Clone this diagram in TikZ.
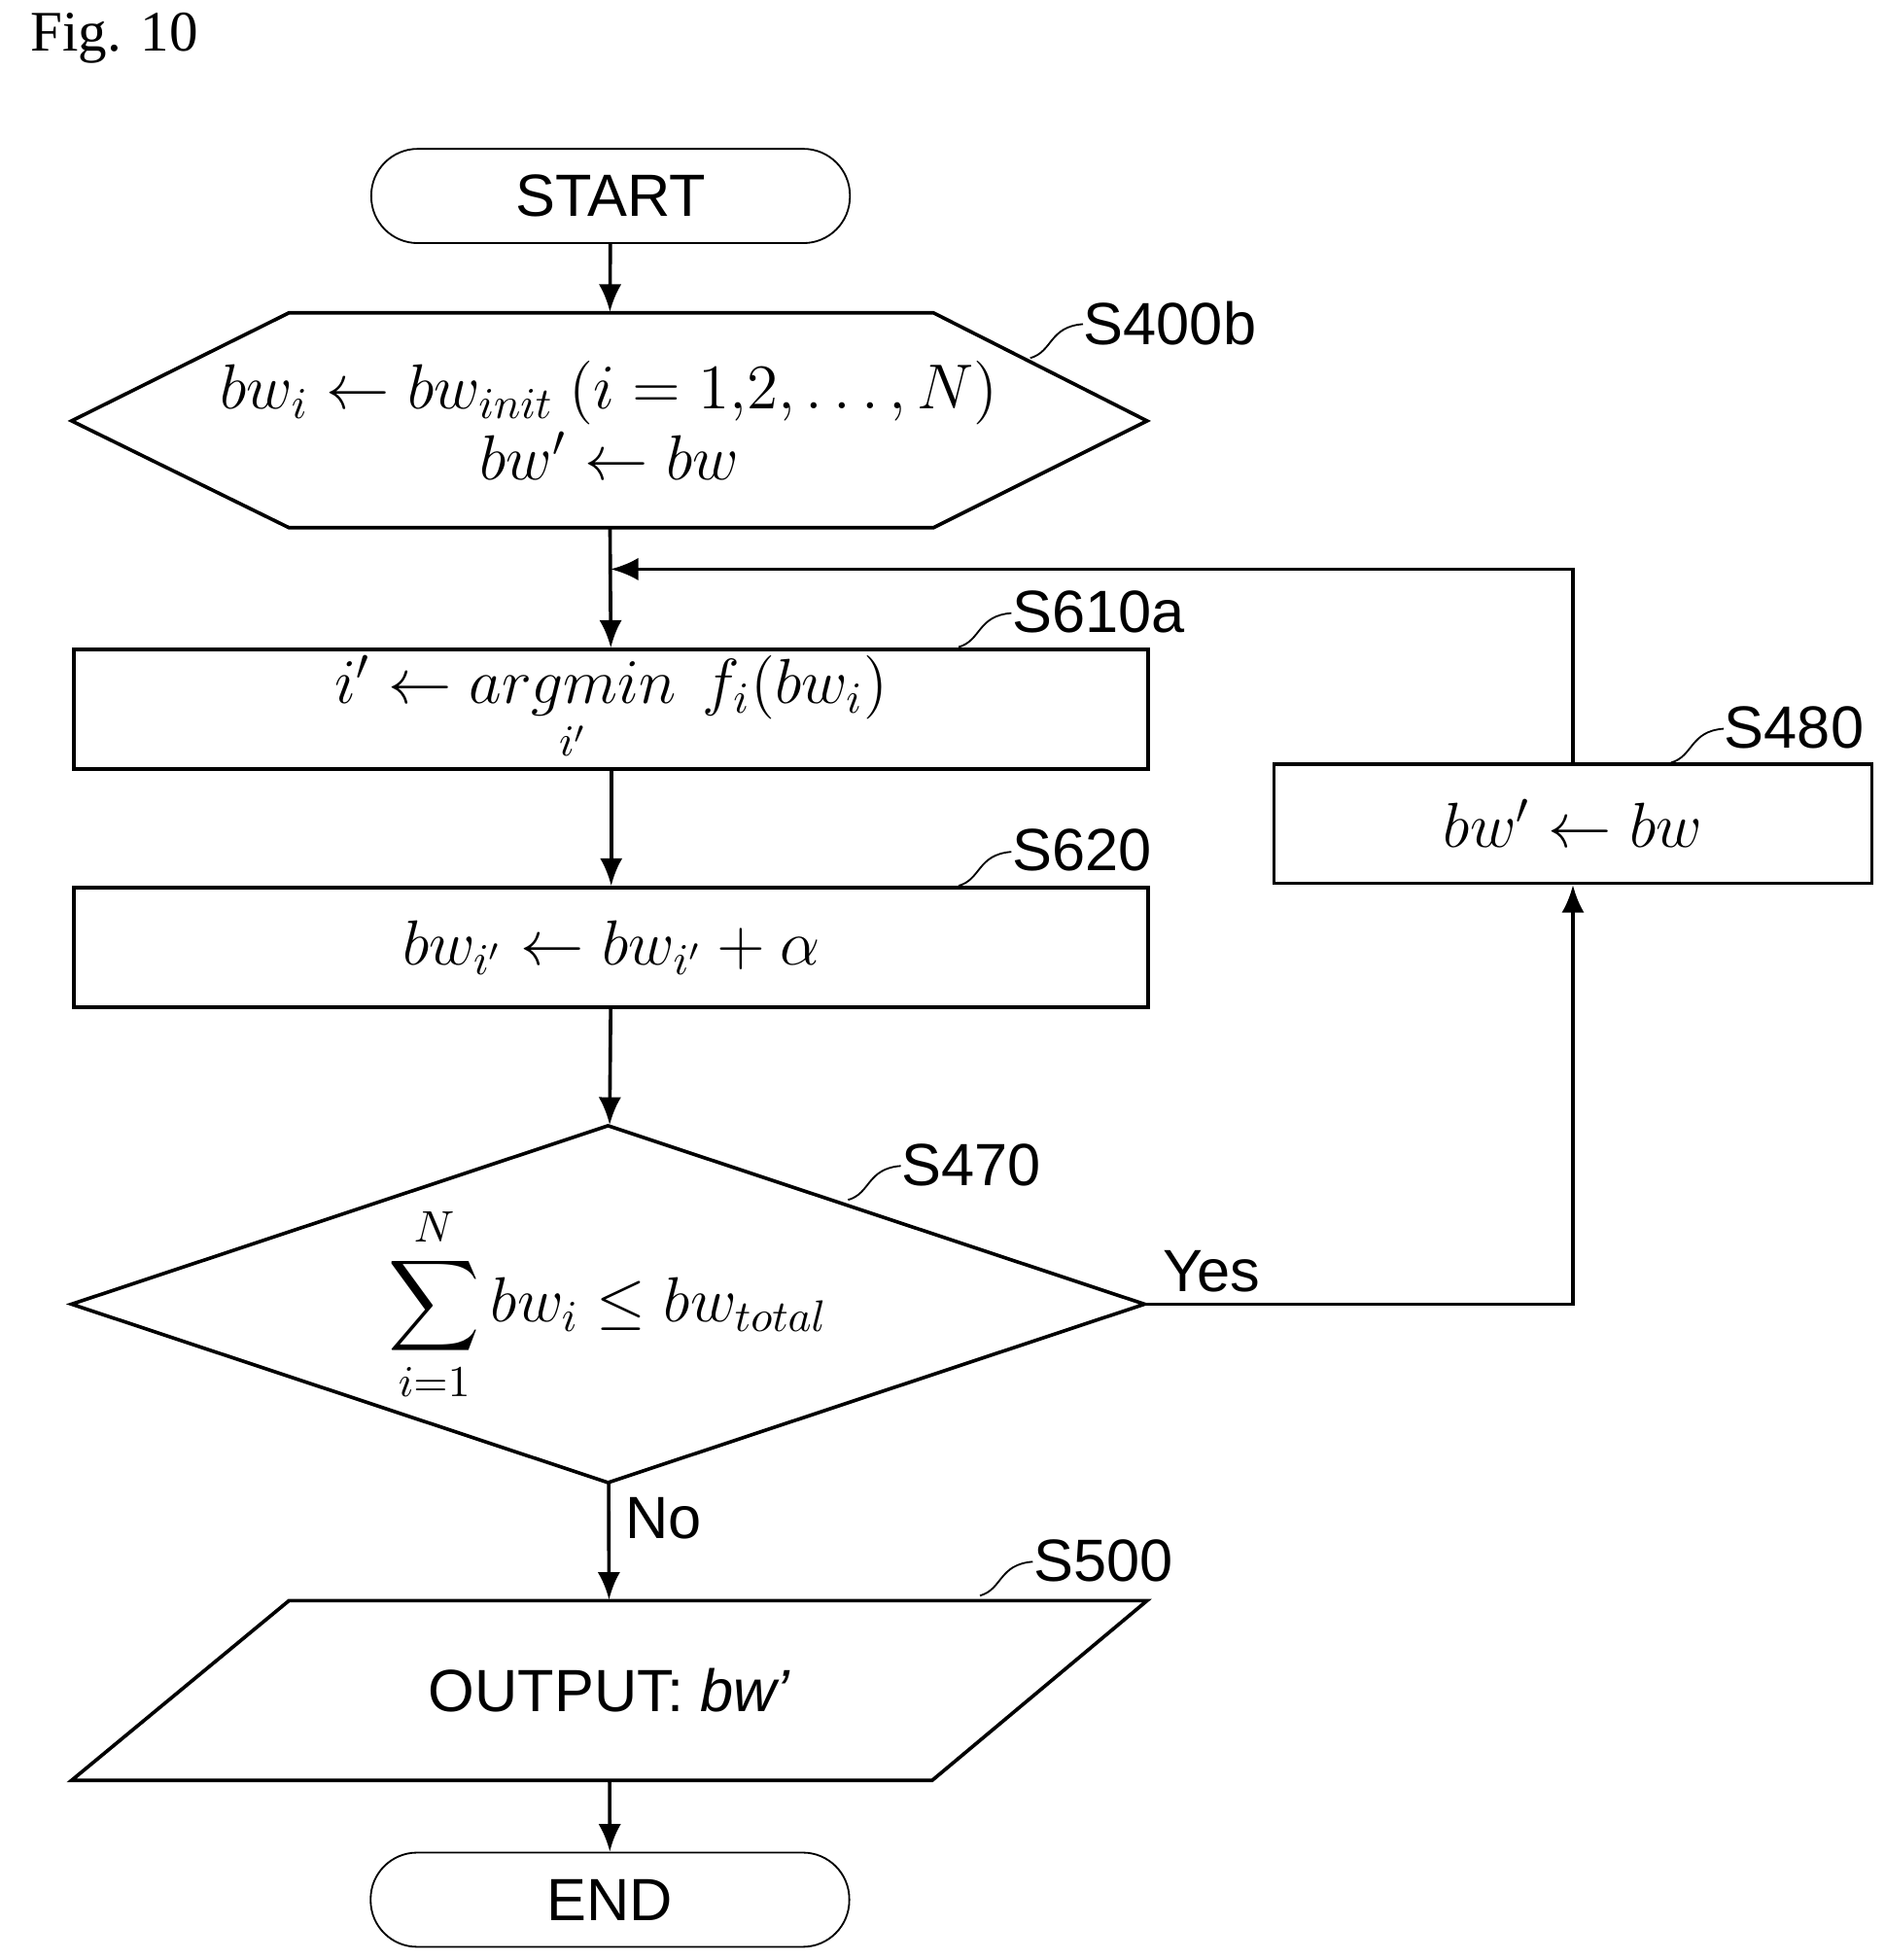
\documentclass[tikz,border=0pt]{standalone}
\usepackage{amsmath}
\usepackage{fontspec}
\setmainfont{Liberation Serif}
\setsansfont{Liberation Sans}
\usetikzlibrary{arrows.meta, positioning, shapes.geometric, calc}
\tikzset{%
	term/.style={draw, rounded corners=0.37cm, minimum width=3.81cm, minimum height=0.75cm,%
		inner sep=0mm, font=\sffamily\fontsize{13.5}{16}\selectfont},
	proc/.style={draw, thick, rectangle, minimum width=8.55cm, minimum height=0.95cm, inner sep=0mm,%
		font=\fontsize{14}{17}\selectfont},
	flow/.style={-{Latex[length=2.2mm, width=1.8mm]}, thick},
	tag/.style={font=\sffamily\fontsize{13.5}{16}\selectfont, anchor=west, inner sep=0mm},
	lead/.style={thin}
}
\newcommand{\steptag}[3]{% start point, node name, text
	\node[tag] (#2) at ($#1+(0.42,0.28)$) {#3};
	\draw[lead] #1 .. controls ($#1+(0.18,0.05)$) and ($#1+(0.15,0.25)$) .. ($#1+(0.42,0.27)$);
}
\begin{document}
\begin{tikzpicture}
	\useasboundingbox (0,0) rectangle (15,-15.6);
	\node[font=\rmfamily\fontsize{13}{16}\selectfont, anchor=west] (fig) at (0.12,-0.3) {Fig. 10};

	\node[term] (start) at (4.86,-1.56) {START};
	% hexagon S400b
	\draw[thick] (0.57,-3.35) -- (2.3,-2.49) -- (7.43,-2.49) -- (9.13,-3.35) -- (7.43,-4.2) -- (2.3,-4.2) -- cycle;
	\node[minimum width=8.56cm, minimum height=1.71cm, inner sep=0mm, font=\fontsize{14}{17}\selectfont,%
		align=center] (init) at (4.85,-3.345)
		{$bw_i \leftarrow bw_{init}\ (i=1{,}2,\ldots,N)$\\[-1pt]$bw' \leftarrow bw$\hspace{1.2cm}};
	\node[proc] (argmin) at (4.865,-5.645) {$i' \leftarrow \mathop{argmin}\limits_{i'}\ f_i(bw_i)$};
	\node[proc] (incr) at (4.865,-7.54) {$bw_{i'} \leftarrow bw_{i'} + \alpha$};
	% diamond S470
	\draw[thick] (4.84,-8.96) -- (9.11,-10.38) -- (4.84,-11.8) -- (0.57,-10.38) -- cycle;
	\node[minimum width=8.54cm, minimum height=2.84cm, inner sep=0mm, font=\fontsize{14}{17}\selectfont]%
		(check) at (4.84,-10.38) {$\displaystyle\sum_{i=1}^{N} bw_i \leq bw_{total}$};
	\node[proc, minimum width=4.76cm] (save) at (12.52,-6.555) {$bw' \leftarrow bw$};
	% parallelogram S500
	\draw[thick] (2.3,-12.74) -- (9.13,-12.74) -- (7.42,-14.17) -- (0.57,-14.17) -- cycle;
	\node[minimum width=6.8cm, minimum height=1.43cm, inner sep=0mm,%
		font=\sffamily\fontsize{13.5}{16}\selectfont] (out) at (4.85,-13.455) {OUTPUT: \textit{bw'}};
	\node[term] (end) at (4.855,-15.12) {END};

	\draw[flow] (start) -- (init);
	\draw[flow] (init) -- (argmin);
	\draw[flow] (argmin) -- (incr);
	\draw[flow] (incr) -- (check);
	\draw[flow] (check) -- node[tag, pos=0.3, right=0.12cm] {No} (out);
	\draw[flow] (out) -- (end);
	\coordinate (yesturn) at (12.52,-10.38);
	\draw[flow] (check.east) -- (yesturn) -- (save);
	\node[tag] (yes) at (9.25,-10.12) {Yes};
	\coordinate (back) at (4.86,-4.53);
	\draw[flow] (save) -- (12.52,-4.53) -- (back);

	\steptag{(8.2,-2.85)}{t400}{S400b}
	\steptag{(7.63,-5.15)}{t610}{S610a}
	\steptag{(7.63,-7.05)}{t620}{S620}
	\steptag{(6.75,-9.55)}{t470}{S470}
	\steptag{(13.3,-6.07)}{t480}{S480}
	\steptag{(7.8,-12.7)}{t500}{S500}
\end{tikzpicture}
\end{document}
